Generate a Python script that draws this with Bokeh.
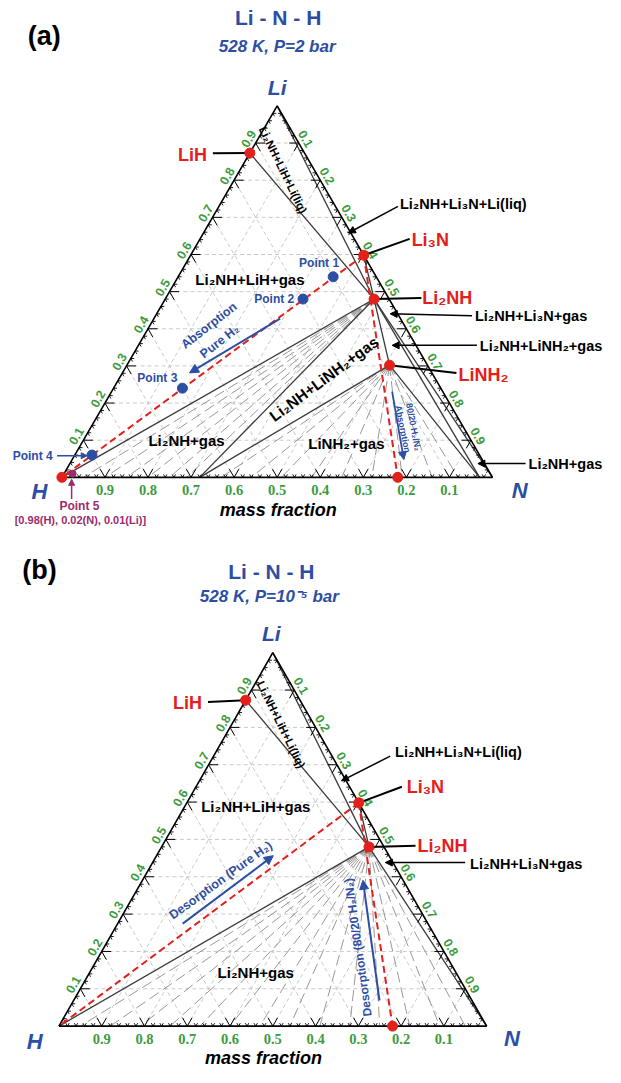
import numpy as np
from bokeh.plotting import figure
from bokeh.models import Range1d, Arrow, NormalHead, Label
from bokeh.layouts import column
from bokeh.embed import file_html
from bokeh.resources import INLINE
from bokeh.core.properties import value

# ---------------- data (mass fractions H, N, Li) ----------------
phase_names = ["LiH", "Li3N", "Li2NH", "LiNH2"]
phase_h = [0.127, 0.000, 0.035, 0.088]
phase_n = [0.000, 0.402, 0.485, 0.610]
phase_li = [0.873, 0.598, 0.480, 0.302]

vertex_names = ["H", "N", "Li"]
vertex_h = [1.0, 0.0, 0.0]
vertex_n = [0.0, 1.0, 0.0]
vertex_li = [0.0, 0.0, 1.0]

# gas compositions on the H-N edge (mass fraction of H)
gas_names = ["gas3", "mix8020", "gasN"]
gas_h = [0.68, 0.22, 0.03]

pt_names = ["Point 1", "Point 2", "Point 3", "Point 4"]
pt_h = [0.10, 0.20, 0.60, 0.90]
pt_n = [0.36, 0.32, 0.16, 0.04]
pt_li = [0.54, 0.48, 0.24, 0.06]
pt5 = [0.98, 0.02, 0.01]

tick_values = [0.1, 0.2, 0.3, 0.4, 0.5, 0.6, 0.7, 0.8, 0.9]
tick_labels = ["0.1", "0.2", "0.3", "0.4", "0.5", "0.6", "0.7", "0.8", "0.9"]

bound_a_from = ["LiH", "Li", "Li3N", "H", "gas3", "gas3", "Li2NH", "LiNH2", "Li2NH", "Li2NH"]
bound_a_to = ["Li2NH", "Li2NH", "Li2NH", "Li2NH", "Li2NH", "LiNH2", "LiNH2", "gasN", "N", "gasN"]
bound_b_from = ["LiH", "Li", "Li3N", "H", "Li2NH"]
bound_b_to = ["Li2NH", "Li2NH", "Li2NH", "Li2NH", "N"]

tie_a1_h = [0.95, 0.90, 0.85, 0.80, 0.75, 0.71]        # Li2NH + gas
tie_a2_h = [0.63, 0.56, 0.49, 0.42, 0.35, 0.28, 0.21, 0.14, 0.08]  # LiNH2 + gas
tie_b_h = [0.95, 0.88, 0.81, 0.74, 0.67, 0.60, 0.53, 0.46, 0.39, 0.32, 0.25, 0.18, 0.11, 0.05]

red_a = ["H", "LiH", "Li3N", "Li2NH", "LiNH2", "mix8020"]
red_b = ["LiH", "Li3N", "Li2NH", "mix8020"]
path_from = ["Li3N", "Li3N"]
path_to = ["H", "mix8020"]

# ---------------- helpers ----------------
comp = {}
for nm, h, n, li in zip(phase_names, phase_h, phase_n, phase_li):
    comp[nm] = (h, n, li)
for nm, h, n, li in zip(vertex_names, vertex_h, vertex_n, vertex_li):
    comp[nm] = (h, n, li)
for nm, h in zip(gas_names, gas_h):
    comp[nm] = (h, 1.0 - h, 0.0)


def tern(h, n, li):
    return n + li / 2.0, li


def xy(nm):
    return tern(*comp[nm])


BLUE = "#2c4ea3"
RED = "#e3201b"
GREEN = "#3d9b3d"
MAROON = "#9c2c6c"
DARK = "#3a3a3a"
SANS = "Liberation Sans"

PANEL = {
    "a": dict(x0=63.0, w=442.0, y0=484.0, hgt=377.0, top=0.0, bot=541.0, H=533),
    "b": dict(x0=60.0, w=439.0, y0=1041.0, hgt=379.0, top=541.0, bot=1083.0, H=534),
}


def R(pn, xr, yr):
    c = PANEL[pn]
    return (xr - c["x0"]) / c["w"], (c["y0"] - yr) / c["hgt"]


def lab(p, pn, xr, yr, txt, size=15, color="black", style="bold", align="center",
        angle=0, font=SANS):
    X, Y = R(pn, xr, yr)
    p.add_layout(Label(x=X, y=Y, text=txt, text_font_size=f"{size}px", text_color=color,
                       text_font_style=style, text_align=align, text_baseline="middle",
                       angle=angle, angle_units="deg", text_font=font))


def arr(p, pn, x1, y1, x2, y2, color="black", width=1.5, head=7):
    X1, Y1 = R(pn, x1, y1)
    X2, Y2 = R(pn, x2, y2)
    p.add_layout(Arrow(end=NormalHead(size=head, fill_color=color, line_color=color),
                       x_start=X1, y_start=Y1, x_end=X2, y_end=Y2,
                       line_color=color, line_width=width))


def leader(p, pn, nm, xr, yr):
    X1, Y1 = xy(nm)
    X2, Y2 = R(pn, xr, yr)
    p.line([X1, X2], [Y1, Y2], line_color="black", line_width=2)


def base_panel(pn, bounds_from, bounds_to, ties):
    c = PANEL[pn]
    p = figure(width=605, height=c["H"],
               x_range=Range1d(-c["x0"] / c["w"], (621 - c["x0"]) / c["w"]),
               y_range=Range1d((c["y0"] - c["bot"]) / c["hgt"], (c["y0"] - c["top"]) / c["hgt"]),
               output_backend="svg", toolbar_location=None, min_border=0,
               x_axis_location=None, y_axis_location=None)
    p.xgrid.visible = False
    p.ygrid.visible = False
    p.outline_line_color = None

    # ternary grid
    gx, gy = [], []
    for t in tick_values:
        for a, b in [((1 - t, 0, t), (0, 1 - t, t)), ((t, 1 - t, 0), (t, 0, 1 - t)),
                     ((1 - t, t, 0), (0, t, 1 - t))]:
            A = tern(*a); B = tern(*b)
            gx.append([A[0], B[0]]); gy.append([A[1], B[1]])
    p.multi_line(gx, gy, line_color="#c4c4c4", line_width=0.9, line_dash="4 3")

    # tie lines
    tx, ty = [], []
    for ph, hs in ties:
        P = xy(ph)
        for h in hs:
            Q = tern(h, 1 - h, 0)
            tx.append([P[0], Q[0]]); ty.append([P[1], Q[1]])
    p.multi_line(tx, ty, line_color="#8c8c8c", line_width=0.9, line_dash="11 5")

    # phase boundaries
    bx, by = [], []
    for f, t in zip(bounds_from, bounds_to):
        A = xy(f); B = xy(t)
        bx.append([A[0], B[0]]); by.append([A[1], B[1]])
    p.multi_line(bx, by, line_color=DARK, line_width=1.3)

    # triangle edges
    ex = [xy(v)[0] for v in ["H", "N", "Li", "H"]]
    ey = [xy(v)[1] for v in ["H", "N", "Li", "H"]]
    p.line(ex, ey, line_color="black", line_width=1.6)

    # ticks
    minor = [round(v, 2) for v in np.arange(0.02, 0.99, 0.02) if round(v * 10, 6) % 1 != 0]
    for vals, d, lw in [(tick_values, 0.022, 1.0), (minor, 0.008, 0.9)]:
        x0, y0, x1, y1 = [], [], [], []
        for t in vals:
            for P, D in [((t, 1 - t, 0), (0, -d, d)), ((t, 1 - t, 0), (-d, 0, d)),
                         ((1 - t, 0, t), (-d, d, 0)), ((1 - t, 0, t), (0, d, -d)),
                         ((0, t, 1 - t), (d, 0, -d)), ((0, t, 1 - t), (d, -d, 0))]:
                A = tern(*P)
                B = tern(P[0] + D[0], P[1] + D[1], P[2] + D[2])
                x0.append(A[0]); y0.append(A[1]); x1.append(B[0]); y1.append(B[1])
        p.segment(x0, y0, x1, y1, line_color="black", line_width=lw)

    # tick labels
    bx_ = [tern(t, 1 - t, 0)[0] for t in tick_values]
    by_ = [-13.0 / c["hgt"]] * len(tick_values)
    p.text(bx_, by_, text=tick_labels, text_font=value("Liberation Serif"),
           text_font_style="bold", text_font_size="14.5px", text_color=GREEN,
           text_align="center", text_baseline="middle")
    lx = [tern(1 - t, 0, t)[0] - 7.3 / c["w"] for t in tick_values]
    ly = [tern(1 - t, 0, t)[1] + 4.3 / c["hgt"] for t in tick_values]
    p.text(lx, ly, text=tick_labels, text_font=value(SANS), text_font_style="bold",
           text_font_size="12.5px", text_color=GREEN, text_align="center",
           text_baseline="middle", angle=60, angle_units="deg")
    rx = [tern(0, t, 1 - t)[0] + 7.3 / c["w"] for t in tick_values]
    ry = [tern(0, t, 1 - t)[1] + 4.3 / c["hgt"] for t in tick_values]
    p.text(rx, ry, text=tick_labels, text_font=value(SANS), text_font_style="bold",
           text_font_size="12.5px", text_color=GREEN, text_align="center",
           text_baseline="middle", angle=-60, angle_units="deg")

    # red dashed composition paths
    for f, t in zip(path_from, path_to):
        A = xy(f); B = xy(t)
        p.line([A[0], B[0]], [A[1], B[1]], line_color=RED, line_width=2, line_dash="7 4")
    return p


# ---------------- panel (a) ----------------
pa = base_panel("a", bound_a_from, bound_a_to, [("Li2NH", tie_a1_h), ("LiNH2", tie_a2_h)])

for nm, xr, yr in [("LiH", 218, 155), ("Li3N", 420, 242), ("Li2NH", 432, 302), ("LiNH2", 468, 378)]:
    leader(pa, "a", nm, xr, yr)

pa.scatter([xy(n)[0] for n in red_a], [xy(n)[1] for n in red_a], size=10, color=RED)
ptx = [tern(h, n, li)[0] for h, n, li in zip(pt_h, pt_n, pt_li)]
pty = [tern(h, n, li)[1] for h, n, li in zip(pt_h, pt_n, pt_li)]
pa.scatter(ptx, pty, size=10, color=BLUE)
p5 = tern(*pt5)
pa.scatter([p5[0]], [p5[1]], size=7, color=MAROON)

lab(pa, "a", 45, 36, "(a)", 27)
lab(pa, "a", 285, 17, "Li - N - H", 21, BLUE)
lab(pa, "a", 284, 47, "528 K, P=2 bar", 17, BLUE, "bold italic")
lab(pa, "a", 284, 88, "Li", 21, BLUE, "bold italic")
lab(pa, "a", 40, 498, "H", 22, BLUE, "bold italic")
lab(pa, "a", 533, 497, "N", 22, BLUE, "bold italic")
lab(pa, "a", 285, 517, "mass fraction", 18, "black", "bold italic")

lab(pa, "a", 197, 157, "LiH", 18, RED)
lab(pa, "a", 422, 243, "Li₃N", 18, RED, align="left")
lab(pa, "a", 433, 302, "Li₂NH", 18, RED, align="left")
lab(pa, "a", 470, 380, "LiNH₂", 18, RED, align="left")

lab(pa, "a", 290, 172, "Li₂NH+LiH+Li(liq)", 11.5, angle=-64)
lab(pa, "a", 410, 207, "Li₂NH+Li₃N+Li(liq)", 14.5, align="left")
lab(pa, "a", 256, 283, "Li₂NH+LiH+gas", 15)
lab(pa, "a", 487, 320, "Li₂NH+Li₃N+gas", 14.5, align="left")
lab(pa, "a", 492, 351, "Li₂NH+LiNH₂+gas", 14.5, align="left")
lab(pa, "a", 332, 384, "Li₂NH+LiNH₂+gas", 15.5, angle=36.5)
lab(pa, "a", 191, 447, "Li₂NH+gas", 15)
lab(pa, "a", 355, 450, "LiNH₂+gas", 15)
lab(pa, "a", 542, 470, "Li₂NH+gas", 14.5, align="left")
arr(pa, "a", 408, 209, 357, 236)
arr(pa, "a", 484, 320, 400, 318)
arr(pa, "a", 489, 350, 402, 350)
arr(pa, "a", 539, 470, 490, 470)

for nm, xr, yr in zip(pt_names, [327, 281, 161, 33], [266, 303, 383, 462]):
    lab(pa, "a", xr, yr, nm, 12, BLUE)
arr(pa, "a", 58, 462, 89, 462, BLUE, 1.5, 6)
lab(pa, "a", 214, 330, "Absorption", 12.5, BLUE, angle=38)
lab(pa, "a", 225, 346, "Pure H₂", 12.5, BLUE, angle=38)
arr(pa, "a", 287, 323, 194, 378, BLUE, 2, 9)
lab(pa, "a", 413, 435, "Absorption", 9, BLUE, angle=-79)
lab(pa, "a", 424, 433, "80/20 H₂/N₂", 9, BLUE, angle=-79)
arr(pa, "a", 402, 397, 414, 466, BLUE, 1.8, 8)

lab(pa, "a", 81, 513, "Point 5", 12, MAROON)
arr(pa, "a", 73, 506, 73, 486, MAROON, 1.5, 6)
lab(pa, "a", 82, 527, "[0.98(H), 0.02(N), 0.01(Li)]", 11, MAROON)

# ---------------- panel (b) ----------------
pb = base_panel("b", bound_b_from, bound_b_to, [("Li2NH", tie_b_h)])

for nm, xr, yr in [("LiH", 213, 712), ("Li3N", 412, 798), ("Li2NH", 426, 858)]:
    leader(pb, "b", nm, xr, yr)
pb.scatter([xy(n)[0] for n in red_b], [xy(n)[1] for n in red_b], size=10, color=RED)

lab(pb, "b", 40, 578, "(b)", 27)
lab(pb, "b", 278, 580, "Li - N - H", 21, BLUE)
lab(pb, "b", 276, 605, "528 K, P=10⁻⁵ bar", 17, BLUE, "bold italic")
lab(pb, "b", 278, 643, "Li", 21, BLUE, "bold italic")
lab(pb, "b", 35, 1057, "H", 22, BLUE, "bold italic")
lab(pb, "b", 525, 1054, "N", 22, BLUE, "bold italic")
lab(pb, "b", 270, 1073, "mass fraction", 18, "black", "bold italic")

lab(pb, "b", 192, 713, "LiH", 18, RED)
lab(pb, "b", 417, 798, "Li₃N", 18, RED, align="left")
lab(pb, "b", 428, 858, "Li₂NH", 18, RED, align="left")

lab(pb, "b", 288, 735, "Li₂NH+LiH+Li(liq)", 11.5, angle=-64)
lab(pb, "b", 405, 763, "Li₂NH+Li₃N+Li(liq)", 14.5, align="left")
lab(pb, "b", 482, 876, "Li₂NH+Li₃N+gas", 14.5, align="left")
lab(pb, "b", 262, 818, "Li₂NH+LiH+gas", 15)
lab(pb, "b", 262, 987, "Li₂NH+gas", 15)
arr(pb, "b", 400, 767, 350, 792)
arr(pb, "b", 477, 875, 395, 875)

lab(pb, "b", 226, 893, "Desorption (Pure H₂)", 12.5, BLUE, angle=36)
arr(pb, "b", 187, 937, 280, 868, BLUE, 2, 9)
lab(pb, "b", 367, 961, "Desorption (80/20 H₂/N₂)", 12, BLUE, angle=98)
arr(pb, "b", 389, 1015, 372, 893, BLUE, 2, 9)

layout = column(pa, pb)
open("out.html", "w").write(file_html(layout, INLINE))
